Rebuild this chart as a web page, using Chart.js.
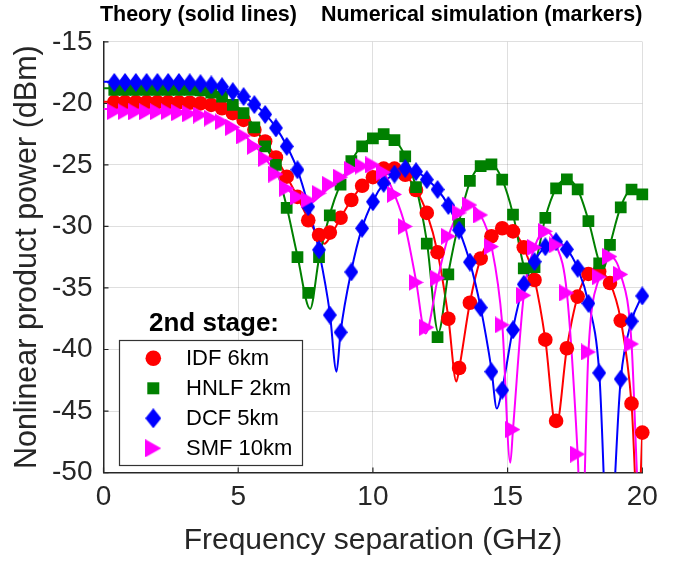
<!DOCTYPE html>
<html>
<head>
<meta charset="utf-8">
<script src="https://cdn.jsdelivr.net/npm/chart.js@4.4.0/dist/chart.umd.min.js"></script>
<style>
html,body{margin:0;padding:0;background:#fff;}
#wrap{width:685px;height:564px;position:relative;}
</style>
</head>
<body>
<div id="wrap"><canvas id="c" width="685" height="564"></canvas></div>
<script>
// ---------- DATA ----------
const seriesNames = ['IDF 6km', 'HNLF 2km', 'DCF 5km', 'SMF 10km'];
const xTicks = [0, 5, 10, 15, 20];
const yTicks = [-15, -20, -25, -30, -35, -40, -45, -50];

// numerical simulation (markers)
const simFreq = [0.4,0.8,1.2,1.6,2.0,2.4,2.8,3.2,3.6,4.0,4.4,4.8,5.2,5.6,6.0,6.4,6.8,7.2,7.6,8.0,
  8.4,8.8,9.2,9.6,10.0,10.4,10.8,11.2,11.6,12.0,12.4,12.8,13.2,13.6,14.0,14.4,14.8,15.2,15.6,16.0,
  16.4,16.8,17.2,17.6,18.0,18.4,18.8,19.2,19.6,20.0];
const idfSim = [-19.9,-19.9,-19.9,-19.9,-19.9,-19.9,-19.92,-19.95,-20.0,-20.13,-20.4,-20.8,-21.35,-22.15,-23.1,-24.4,-25.96,-27.6,-29.5,-30.7,
  -30.5,-29.3,-27.85,-26.7,-26.0,-25.3,-25.3,-25.8,-27.04,-28.9,-32.1,-37.5,-41.5,-36.2,-32.6,-30.8,-30.15,-30.4,-31.7,-34.35,
  -39.2,-45.8,-39.9,-35.7,-33.86,-33.67,-34.6,-37.65,-44.4,-46.75];
const hnlfSim = [-18.9,-18.9,-18.9,-18.9,-18.9,-18.9,-18.9,-18.9,-18.95,-19.13,-19.46,-20.13,-20.8,-21.95,-23.5,-25.0,-28.5,-32.5,-35.4,-32.5,
  -29.1,-26.6,-24.7,-23.5,-22.84,-22.5,-22.98,-24.3,-26.8,-31.4,-39.0,-33.9,-29.8,-26.3,-25.1,-24.95,-26.2,-29.05,-33.4,-33.3,
  -29.3,-26.9,-26.17,-26.98,-29.56,-33.0,-31.5,-28.45,-27.0,-27.4];
const dcfSim = [-18.3,-18.3,-18.3,-18.3,-18.3,-18.3,-18.3,-18.33,-18.4,-18.5,-18.65,-19.05,-19.45,-20.1,-20.9,-22.0,-23.5,-25.4,-28.4,-31.9,
  -37.2,-38.6,-33.7,-30.15,-28.0,-26.5,-25.75,-25.3,-25.55,-26.2,-27.0,-28.3,-30.3,-32.9,-36.6,-41.8,-43.3,-38.4,-34.7,-32.86,
  -31.65,-31.24,-31.86,-33.4,-36.25,-41.9,null,-42.4,-37.7,-35.65];
const smfSim = [-20.68,-20.68,-20.68,-20.68,-20.68,-20.68,-20.75,-20.85,-20.95,-21.2,-21.5,-21.95,-22.65,-23.5,-24.5,-25.75,-26.9,-27.6,-27.85,-27.3,
  -26.6,-26.0,-25.36,-25.1,-25.0,-25.6,-27.4,-30.0,-34.55,-38.2,-34.2,-30.8,-28.9,-28.26,-29.07,-31.64,-38.0,-46.5,-35.6,-31.7,
  -30.4,-31.5,-35.4,-48.5,-40.2,-34.1,-32.45,-33.9,-39.55,null];

// theory (solid lines) as [frequency GHz, power dBm]
const idfTheory = [[0,-19.87],[0.4,-19.87],[0.8,-19.87],[1.2,-19.88],[1.6,-19.88],[2.0,-19.89],[2.4,-19.9],[2.8,-19.92],[3.2,-19.96],[3.6,-20.03],
  [4.0,-20.15],[4.4,-20.4],[4.8,-20.8],[5.2,-21.35],[5.6,-22.15],[6.0,-23.1],[6.4,-24.4],[6.8,-25.95],[7.2,-27.6],[7.6,-29.4],
  [8.0,-30.9],[8.2,-31.4],[8.4,-30.9],[8.8,-29.3],[9.2,-27.85],[9.6,-26.7],[10.0,-25.95],[10.4,-25.4],[10.8,-25.3],[11.2,-25.8],
  [11.6,-27.0],[12.0,-28.9],[12.4,-32.1],[12.8,-37.4],[13.1,-42.6],[13.2,-41.6],[13.6,-36.2],[14.0,-32.6],[14.4,-30.8],[14.8,-30.15],
  [15.2,-30.4],[15.6,-31.7],[16.0,-34.3],[16.4,-39.2],[16.8,-46.3],[17.2,-39.9],[17.6,-35.7],[18.0,-33.9],[18.4,-33.7],[18.8,-34.6],
  [19.2,-37.6],[19.6,-44.4],[19.85,-54],[20.0,-46.75]];
const hnlfTheory = [[0,-18.78],[0.4,-18.78],[0.8,-18.78],[1.2,-18.79],[1.6,-18.8],[2.0,-18.81],[2.4,-18.83],[2.8,-18.86],[3.2,-18.9],[3.6,-19.0],
  [4.0,-19.15],[4.4,-19.45],[4.8,-20.0],[5.2,-20.75],[5.6,-21.9],[6.0,-23.4],[6.4,-25.2],[6.8,-28.4],[7.2,-32.4],[7.67,-36.7],
  [8.0,-32.6],[8.4,-29.0],[8.8,-26.5],[9.2,-24.7],[9.6,-23.4],[10.0,-22.75],[10.4,-22.45],[10.8,-22.95],[11.2,-24.3],[11.6,-26.8],
  [12.0,-31.2],[12.43,-38.6],[12.8,-33.8],[13.2,-29.6],[13.6,-26.4],[14.0,-25.1],[14.4,-24.95],[14.8,-26.2],[15.2,-29.0],[15.6,-33.2],
  [15.8,-34.0],[16.0,-33.3],[16.4,-29.3],[16.8,-26.9],[17.2,-26.15],[17.6,-27.0],[18.0,-29.5],[18.4,-32.9],[18.55,-33.5],[18.8,-31.5],
  [19.2,-28.4],[19.6,-27.0],[20.0,-27.3]];
const dcfTheory = [[0,-18.25],[0.4,-18.25],[0.8,-18.25],[1.2,-18.26],[1.6,-18.27],[2.0,-18.28],[2.4,-18.3],[2.8,-18.32],[3.2,-18.36],[3.6,-18.42],
  [4.0,-18.55],[4.4,-18.75],[4.8,-19.05],[5.2,-19.45],[5.6,-20.05],[6.0,-20.85],[6.4,-21.95],[6.8,-23.45],[7.2,-25.4],[7.6,-28.3],
  [8.0,-32.0],[8.4,-37.0],[8.65,-41.8],[8.8,-38.6],[9.2,-33.6],[9.6,-30.1],[10.0,-27.95],[10.4,-26.5],[10.8,-25.7],[11.2,-25.35],
  [11.6,-25.5],[12.0,-26.15],[12.4,-27.0],[12.8,-28.3],[13.2,-30.3],[13.6,-32.9],[14.0,-36.6],[14.4,-41.6],[14.6,-44.8],[14.8,-43.2],
  [15.2,-38.3],[15.6,-34.7],[16.0,-32.8],[16.4,-31.65],[16.8,-31.25],[17.2,-31.85],[17.6,-33.4],[18.0,-36.2],[18.4,-41.8],[18.75,-57],
  [19.2,-42.4],[19.6,-37.7],[20.0,-35.6]];
const smfTheory = [[0,-20.45],[0.4,-20.45],[0.8,-20.46],[1.2,-20.47],[1.6,-20.48],[2.0,-20.5],[2.4,-20.55],[2.8,-20.62],[3.2,-20.72],[3.6,-20.85],
  [4.0,-21.05],[4.4,-21.35],[4.8,-21.85],[5.2,-22.55],[5.6,-23.4],[6.0,-24.45],[6.4,-25.7],[6.8,-26.9],[7.2,-27.7],[7.6,-28.2],
  [8.0,-27.6],[8.4,-26.8],[8.8,-26.1],[9.2,-25.45],[9.6,-25.1],[10.0,-25.05],[10.4,-25.6],[10.8,-27.4],[11.2,-30.0],[11.6,-34.4],
  [11.95,-38.7],[12.4,-34.3],[12.8,-30.8],[13.2,-28.9],[13.6,-28.3],[14.0,-29.1],[14.4,-31.6],[14.8,-37.9],[15.1,-49.2],[15.2,-46.5],
  [15.6,-35.6],[16.0,-31.7],[16.4,-30.4],[16.8,-31.5],[17.2,-35.4],[17.6,-48.5],[17.75,-56],[18.0,-40.2],[18.4,-34.1],[18.8,-32.45],
  [19.2,-33.9],[19.6,-39.5],[19.8,-50],[20.0,-60]];

// ---------- STYLE ----------
const FONT = "'Liberation Sans', Arial, Helvetica, sans-serif";
const AXIS_COLOR = '#262626';
const colors = ['#ff0000', '#008000', '#0000ff', '#ff00ff'];

function makeDiamond(color, w, h) {
  const c = document.createElement('canvas'); c.width = w; c.height = h;
  const g = c.getContext('2d'); g.fillStyle = color;
  g.beginPath(); g.moveTo(w/2, 0); g.lineTo(w, h/2); g.lineTo(w/2, h); g.lineTo(0, h/2); g.closePath(); g.fill();
  return c;
}
function makeTriRight(color, w, h) {
  const c = document.createElement('canvas'); c.width = w; c.height = h;
  const g = c.getContext('2d'); g.fillStyle = color;
  g.beginPath(); g.moveTo(0, 0); g.lineTo(w, h/2); g.lineTo(0, h); g.closePath(); g.fill();
  return c;
}
const diamondImg = makeDiamond(colors[2], 14, 19);
const triImg = makeTriRight(colors[3], 15, 17);

const markerStyles = [
  {pointStyle: 'circle', radius: 7.3},
  {pointStyle: 'rect', radius: 8.3},
  {pointStyle: diamondImg, radius: 9},
  {pointStyle: triImg, radius: 9}
];

function toXY(xs, ys) { return xs.map((x, i) => ({x: x, y: ys[i]})); }
function pairs(arr) { return arr.map(p => ({x: p[0], y: p[1]})); }

const sims = [idfSim, hnlfSim, dcfSim, smfSim];
const theories = [idfTheory, hnlfTheory, dcfTheory, smfTheory];

const datasets = [];
// markers on top: SMF, DCF, HNLF, IDF
[3, 2, 1, 0].forEach(i => {
  datasets.push({
    label: seriesNames[i] + ' (simulation)',
    data: toXY(simFreq, sims[i]),
    showLine: false,
    pointStyle: markerStyles[i].pointStyle,
    pointRadius: markerStyles[i].radius,
    pointBackgroundColor: colors[i],
    pointBorderColor: colors[i],
    pointBorderWidth: 0,
    order: 0,
    clip: 14
  });
});
[3, 2, 1, 0].forEach(i => {
  datasets.push({
    label: seriesNames[i] + ' (theory)',
    data: pairs(theories[i]),
    showLine: true,
    borderColor: colors[i],
    borderWidth: 2,
    pointRadius: 0,
    cubicInterpolationMode: 'monotone',
    order: 1
  });
});

// inner tick marks (MATLAB style)
const innerTicks = {
  id: 'innerTicks',
  beforeDatasetsDraw(chart) {
    const {ctx, chartArea: a, scales: {x, y}} = chart;
    ctx.save();
    ctx.strokeStyle = AXIS_COLOR; ctx.lineWidth = 1.2;
    ctx.beginPath();
    xTicks.forEach(v => { const px = x.getPixelForValue(v); ctx.moveTo(px, a.bottom); ctx.lineTo(px, a.bottom - 5); });
    yTicks.forEach(v => { const py = y.getPixelForValue(v); ctx.moveTo(a.left, py); ctx.lineTo(a.left + 5, py); });
    ctx.stroke();
    ctx.restore();
  }
};

// boxed legend with title, as in the figure
const legendBox = {
  id: 'legendBox',
  afterDraw(chart) {
    const ctx = chart.ctx;
    const bx = 119.5, by = 340.5, bw = 183, bh = 125;
    ctx.save();
    ctx.fillStyle = '#ffffff';
    ctx.fillRect(bx, by, bw, bh);
    ctx.strokeStyle = '#333333'; ctx.lineWidth = 1.2;
    ctx.strokeRect(bx, by, bw, bh);
    ctx.fillStyle = '#000000';
    ctx.font = 'bold 26px ' + FONT;
    ctx.textAlign = 'center'; ctx.textBaseline = 'middle';
    ctx.fillText('2nd stage:', 214, 324);
    ctx.font = '22px ' + FONT;
    ctx.textAlign = 'left';
    const rows = [358.3, 388.3, 418.3, 448.3];
    seriesNames.forEach((name, i) => {
      const cy = rows[i], cx = 153.3;
      ctx.fillStyle = colors[i];
      if (i === 0) { ctx.beginPath(); ctx.arc(cx, cy, 7.8, 0, Math.PI * 2); ctx.fill(); }
      else if (i === 1) { ctx.fillRect(cx - 6, cy - 6, 12, 12); }
      else if (i === 2) { ctx.drawImage(makeDiamond(colors[2], 16, 20), cx - 8, cy - 10); }
      else { ctx.drawImage(makeTriRight(colors[3], 16, 18), cx - 8, cy - 9); }
      ctx.fillStyle = '#000000';
      ctx.fillText(name, 186, cy + 1);
    });
    ctx.restore();
  }
};

new Chart(document.getElementById('c'), {
  type: 'scatter',
  data: {datasets: datasets},
  options: {
    responsive: false,
    animation: false,
    devicePixelRatio: 1,
    layout: {padding: {top: 0, right: 42.7, left: 0, bottom: 0}},
    plugins: {
      legend: {display: false},
      tooltip: {enabled: false},
      title: {
        display: true,
        text: 'Theory (solid lines)    Numerical simulation (markers)',
        align: 'end',
        color: '#000000',
        font: {family: FONT, size: 21.5, weight: 'bold'},
        padding: {top: 2, bottom: 14}
      }
    },
    scales: {
      x: {
        type: 'linear', min: 0, max: 20,
        afterBuildTicks(s) { s.ticks = xTicks.map(v => ({value: v})); },
        ticks: {font: {family: FONT, size: 28}, color: AXIS_COLOR, padding: 8, maxRotation: 0,
                callback: v => String(v)},
        grid: {color: 'rgba(38,38,38,0.15)', lineWidth: 1, drawTicks: false},
        border: {display: true, color: AXIS_COLOR, width: 1.5},
        title: {display: true, text: 'Frequency separation (GHz)', color: AXIS_COLOR,
                font: {family: FONT, size: 30}, padding: {top: 0, bottom: 5}},
        afterFit(s) { s.height = 91.4; }
      },
      y: {
        type: 'linear', min: -50, max: -15,
        afterBuildTicks(s) { s.ticks = yTicks.map(v => ({value: v})); },
        ticks: {font: {family: FONT, size: 28}, color: AXIS_COLOR, padding: 11,
                callback: v => String(v)},
        grid: {color: 'rgba(38,38,38,0.15)', lineWidth: 1, drawTicks: false},
        border: {display: true, color: AXIS_COLOR, width: 1.5},
        title: {display: true, text: 'Nonlinear product power (dBm)', color: AXIS_COLOR,
                font: {family: FONT, size: 30.5}, padding: {top: 9, bottom: 0}},
        afterFit(s) { s.width = 103.5; }
      }
    }
  },
  plugins: [innerTicks, legendBox]
});
</script>
</body>
</html>
